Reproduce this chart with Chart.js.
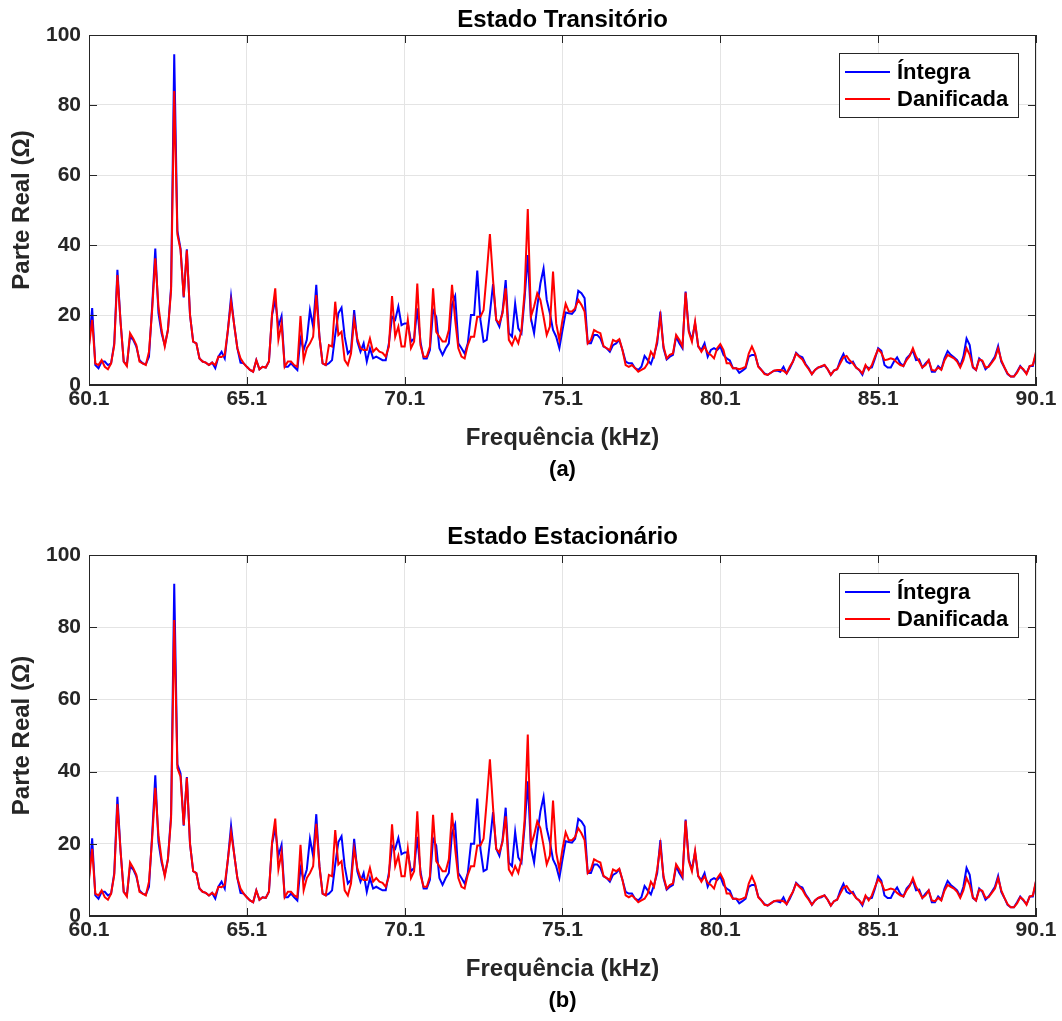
<!DOCTYPE html>
<html><head><meta charset="utf-8">
<script src="https://cdn.jsdelivr.net/npm/chart.js@4/dist/chart.umd.min.js"></script>
<style>
html,body{margin:0;padding:0;background:#fff;}
#wrap{position:relative;width:1062px;height:1021px;background:#fff;}
.box{position:absolute;left:0;width:1062px;}
</style></head><body>
<div id="wrap">
<div class="box" style="top:0;height:490px"><canvas id="c1"></canvas></div>
<div class="box" style="top:517px;height:504px"><canvas id="c2"></canvas></div>
</div>
<script>
// ---------- DATA ----------
const freqStart = 60.1, freqStep = 0.1, nPoints = 301;   // frequency grid (kHz)
const xTicks = [60.1, 65.1, 70.1, 75.1, 80.1, 85.1, 90.1];
const yTicks = [0, 20, 40, 60, 80, 100];
const seriesNames = ['Íntegra', 'Danificada'];
const titles = ['Estado Transitório', 'Estado Estacionário'];
const subLabels = ['(a)', '(b)'];
const xLabel = 'Frequência (kHz)';
const yLabel = 'Parte Real (Ω)';

const integraTrans = [
11.5,22,5.7,4.8,6.7,6.7,5.7,6.2,11.9,32.9,
18,6.7,5.7,13.8,12.9,11,7.1,6.2,5.9,8.1,
22.4,39,20.5,14.8,11.4,15.7,28,94.5,44,39,
25,38.8,20,12.4,11.9,7.6,6.7,6.4,5.7,6.4,
4.8,8.1,9.5,7.6,15.7,25.2,17.1,10.5,6.4,6.2,
5.2,4.3,3.8,7.1,4.5,5.2,5.0,6.7,20,24.3,
16.7,19.7,5.2,5.2,6.2,5.2,4.3,13.3,10,12.9,
21.4,16.7,28.6,13.8,6.2,5.7,6.2,7.1,14.3,20.5,
22.1,13.8,9,10,21.4,12.4,9.5,11.9,6.7,10.5,
7.6,8.1,7.6,7.1,7.1,11.9,19.5,18.6,22.4,17.1,
17.6,17.6,12.4,13.3,21.9,12.4,7.6,7.6,10,21.4,
19.5,10.5,8.6,10.5,11.9,23,25.4,11.9,10.5,9,
11.9,20,20,32.7,18.6,12.4,12.9,20.5,28.8,18.6,
16.7,21,30,14.8,13.8,23.3,16.2,14.8,24.8,37.1,
19,14.8,22.4,29,33.3,24.3,20.5,15.7,13.8,10.5,
15.7,20.7,20.5,20.3,21.4,26.9,26.2,24.8,11.9,11.9,
14.3,14.3,13.3,11,10.5,9.5,11.4,11.9,12.9,10,
6.7,6.2,6.2,4.8,4.3,5.2,8.3,7.1,6,8.6,
11.9,21,10.5,7.3,8.1,8.6,13.8,11.9,10.5,26.7,
15.7,12.9,17.6,11,10,11.9,8.1,10,10.5,10,
11,8.6,7.6,7,4.8,4.8,3.5,4.1,4.8,8.1,
8.6,8.6,5.4,4.3,3.3,2.9,3.5,4.1,4.1,3.8,
5.2,3.3,4.8,6.7,9.2,8.3,7.9,6,4.8,3.1,
4.3,5,5.2,5.7,4.5,2.9,4.1,4.5,7,8.9,
6.7,6.2,6.7,5,4.3,2.9,5.4,4.8,5,7.6,
10.5,9.8,5.7,5,5,6.7,7.9,6.2,5.4,7.6,
8.6,9.8,7.1,7.3,5,6.2,7.1,3.8,3.8,5.4,
4.5,7.6,9.7,8.6,7.9,7.1,5.4,8.1,13.3,11.4,
5,4.3,7.6,6.7,4.5,5.4,6.7,8.1,11.1,6.7,
5,3.1,2.4,2.4,3.8,5.4,4.3,3.3,5.4,5.4,9
];
const danificadaTrans = [
11,18.6,6.2,5.7,7.1,5.2,4.5,6.2,11.4,31.4,
18,6.7,5.4,14.8,13.3,11.4,6.7,6.2,5.7,9.5,
21.4,36.2,22.4,15.7,11,15.7,27,84,43,38.6,
25.2,38.5,20,12.4,11.9,7.6,6.7,6.4,5.7,6.4,
5.7,8.1,8,8.6,15.7,23.8,17.1,10.5,7.6,6.2,
5.2,4.3,3.8,7.1,4.5,5.2,5.0,6.7,20.5,27.6,
12.9,17.6,5.2,6.7,6.7,5.7,5.2,19.7,7.1,10.5,
11.9,13.8,25.7,13.8,6.2,5.7,11.4,11,23.8,14.3,
15.2,7.1,5.7,9,18.6,13.3,10.5,10,10,13.3,
9.5,10.5,9.5,9.2,8.1,11,25.4,13.8,16.7,11,
11,18.6,10.5,12.4,29,11.4,8.1,8.1,11,27.6,
15.2,13.8,12.4,12.4,15.7,28.6,18.6,10.5,8.1,7.6,
11.4,13.8,13.8,19.5,19.5,21.4,31.9,43.1,30,18.6,
17.6,20.5,27.6,12.9,11.4,13.8,11.9,15.7,26.7,50.3,
19.5,22.4,26.2,24.3,19.5,14.3,16.7,32.4,17.6,12.9,
18.6,23.2,21,21,21.9,24.3,22.9,21,11.9,12.9,
15.7,15.2,14.8,11.1,10.5,10,12.9,12.4,13.1,10,
5.7,5.2,5.7,4.8,3.8,4.3,4.8,6.2,9.5,8.1,
12.9,19.5,11,7.6,8.6,9,14.3,12.9,11,26.4,
15.2,12.4,18.1,11.1,9.5,11,9.2,8.6,7.6,10.5,
11.7,10,6.2,6.2,4.8,4.8,4.5,4.8,5.2,9,
11,9,5.2,4.3,3.1,2.9,3.5,4.1,4.3,4.3,
4.1,3.3,5.2,6.7,9,8.1,7.3,5.7,4.5,3.1,
4.3,5,5.4,5.7,4.5,2.9,4.1,4.5,6.2,7.9,
8.3,7,6.2,5,4.3,3.3,5.7,4.3,5.7,8.1,
10.2,9.2,7.1,7.3,7.6,7.3,6.4,5.7,5.4,7.1,
8.3,10.5,8.1,6.7,5,5.7,7.1,4.3,4.1,5,
4.3,7,8.6,8.1,7.6,6.7,5,7.1,10.5,8.6,
5.2,4.3,7.3,7,5,5.2,6.4,7.6,10.5,7.1,
5,3.3,2.4,2.4,3.5,5.2,4.5,3.1,5.4,5.7,9.5
];
const integraEst = [
10.8,21.5,5.7,4.8,6.7,6.7,5.7,6.2,11.9,33,
18,6.7,5.7,13.8,12.9,11,7.1,6.2,5.9,8.1,
22.4,39,20.5,14.8,11.4,15.7,28,92,42,39.5,
25,38.5,20,12.4,11.9,7.6,6.7,6.4,5.7,6.4,
4.8,8.1,9.5,7.6,15.7,25,17.1,10.5,6.4,6.2,
5.2,4.3,3.8,7.1,4.5,5.2,5.0,6.7,20,24.3,
16.7,19.7,5.2,5.2,6.2,5.2,4.3,13.3,10,12.9,
21.4,16.7,28.2,13.8,6.2,5.7,6.2,7.1,14.3,20.5,
22.1,13.8,9,10,21.4,12.4,9.5,11.9,6.7,10.5,
7.6,8.1,7.6,7.1,7.1,11.9,19.5,18.6,21.6,17.1,
17.6,17.6,12.4,13.3,21.9,12.4,7.6,7.6,10,21.4,
19.5,10.5,8.6,10.5,11.9,23,25.4,11.9,10.5,9,
11.9,20,20,32.5,18.6,12.4,12.9,20.5,28.8,18.6,
16.7,21,30,14.8,13.8,23.3,16.2,14.8,24.8,37.3,
19,14.8,22.4,29,33,24.3,20.5,15.7,13.8,10.5,
15.7,20.7,20.5,20.3,21.4,26.9,26.2,24.8,11.9,11.9,
14.3,14.3,13.3,11,10.5,9.5,11.4,11.9,12.9,10,
6.7,6.2,6.2,4.8,4.3,5.2,8.3,7.1,6,8.6,
11.9,21,10.5,7.3,8.1,8.6,13.8,11.9,10.5,26.7,
15.7,12.9,17.6,11,10,11.9,8.1,10,10.5,10,
11,8.6,7.6,7,4.8,4.8,3.5,4.1,4.8,8.1,
8.6,8.6,5.4,4.3,3.3,2.9,3.5,4.1,4.1,3.8,
5.2,3.3,4.8,6.7,9.2,8.3,7.9,6,4.8,3.1,
4.3,5,5.2,5.7,4.5,2.9,4.1,4.5,7,8.9,
6.7,6.2,6.7,5,4.3,2.9,5.4,4.8,5,7.6,
11,9.8,5.7,5,5,6.7,7.9,6.2,5.4,7.6,
8.6,9.8,7.1,7.3,5,6.2,7.1,3.8,3.8,5.4,
4.5,7.6,9.7,8.6,7.9,7.1,5.4,8.1,13.3,11.4,
5,4.3,7.6,6.7,4.5,5.4,6.7,8.1,11.1,6.7,
5,3.1,2.4,2.4,3.8,5.4,4.3,3.3,5.4,5.4,9.5
];
const danificadaEst = [
10,18.6,6.2,5.7,7.1,5.2,4.5,6.2,11.4,31,
18,6.7,5.4,14.8,13.3,11.4,6.7,6.2,5.7,9.5,
21.4,35.5,22.4,15.7,11,15.7,27,82,41,38.6,
25.2,38.3,20,12.4,11.9,7.6,6.7,6.4,5.7,6.4,
5.7,8.1,8,8.6,15.7,23.2,17.1,10.5,7.6,6.2,
5.2,4.3,3.8,7.1,4.5,5.2,5.0,6.7,20.5,27,
12.9,17.6,5.2,6.7,6.7,5.7,5.2,19.7,7.1,10.5,
11.9,13.8,25.5,13.8,6.2,5.7,11.4,11,23.8,14.3,
15.2,7.1,5.7,9,18.6,13.3,10.5,10,10,13.3,
9.5,10.5,9.5,9.2,8.1,11,25.4,13.8,16.7,11,
11,18.6,10.5,12.4,29,11.4,8.1,8.1,11,28,
15.2,13.8,12.4,12.4,15.7,28.6,18.6,10.5,8.1,7.6,
11.4,13.8,13.8,19.5,19.5,21.4,31.9,43.4,30,18.6,
17.6,20.5,27.6,12.9,11.4,13.8,11.9,15.7,26.7,50.3,
19.5,22.4,26.2,24.3,19.5,14.3,16.7,32,17.6,12.9,
18.6,23.2,21,21,21.9,24.3,22.9,21,11.9,12.9,
15.7,15.2,14.8,11.1,10.5,10,12.9,12.4,13.1,10,
5.7,5.2,5.7,4.8,3.8,4.3,4.8,6.2,9.5,8.1,
12.9,19.5,11,7.6,8.6,9,14.3,12.9,11,26.4,
15.2,12.4,18.1,11.1,9.5,11,9.2,8.6,7.6,10.5,
11.7,10,6.2,6.2,4.8,4.8,4.5,4.8,5.2,9,
11,9,5.2,4.3,3.1,2.9,3.5,4.1,4.3,4.3,
4.1,3.3,5.2,6.7,9,8.1,7.3,5.7,4.5,3.1,
4.3,5,5.4,5.7,4.5,2.9,4.1,4.5,6.2,7.9,
8.3,7,6.2,5,4.3,3.3,5.7,4.3,5.7,8.1,
10.2,9.2,7.1,7.3,7.6,7.3,6.4,5.7,5.4,7.1,
8.3,10.5,8.1,6.7,5,5.7,7.1,4.3,4.1,5,
4.3,7,8.6,8.1,7.6,6.7,5,7.1,10.5,8.6,
5.2,4.3,7.3,7,5,5.2,6.4,7.6,10.5,7.1,
5,3.3,2.4,2.4,3.5,5.2,4.5,3.1,5.4,5.7,9.8
];

// frequency axis (sampling grid)
const freqs = [];
for (let i = 0; i < nPoints; i++) freqs.push(+(freqStart + freqStep * i).toFixed(1));

// ---------- STYLE ----------
const FONT = "'Liberation Sans', Arial, Helvetica, sans-serif";
const AX = '#262626';
const GRID = '#e4e4e4';
const BLUE = '#0000ff';
const RED = '#ff0000';

const matlabFrame = {
  id: 'matlabFrame',
  afterDraw(chart, args, opts) {
    const {ctx, chartArea: a, scales: {x, y}} = chart;
    const cx = (a.left + a.right) / 2;
    ctx.save();
    // axes box
    ctx.strokeStyle = AX; ctx.lineWidth = 1;
    ctx.strokeRect(Math.round(a.left) + 0.5, Math.round(a.top) + 0.5,
                   Math.round(a.right - a.left) - 1, Math.round(a.bottom - a.top) - 1);
    // inward tick marks on all four sides
    const L = 8;
    ctx.beginPath();
    x.ticks.forEach(t => {
      const px = Math.round(x.getPixelForValue(t.value)) + 0.5;
      ctx.moveTo(px, a.bottom); ctx.lineTo(px, a.bottom - L);
      ctx.moveTo(px, a.top); ctx.lineTo(px, a.top + L);
    });
    y.ticks.forEach(t => {
      const py = Math.round(y.getPixelForValue(t.value)) + 0.5;
      ctx.moveTo(a.left, py); ctx.lineTo(a.left + L, py);
      ctx.moveTo(a.right, py); ctx.lineTo(a.right - L, py);
    });
    ctx.stroke();
    // title (centred over the axes) and panel label
    ctx.fillStyle = '#000'; ctx.textAlign = 'center'; ctx.textBaseline = 'middle';
    ctx.font = `bold 24px ${FONT}`;
    ctx.fillText(opts.title, cx, 20);
    ctx.font = `bold 22px ${FONT}`;
    ctx.fillText(opts.sub, cx, a.bottom + 85);
    // legend (inside, north-east)
    const ds = chart.data.datasets;
    const bw = 179, bh = 64;
    const bx = Math.round(a.right) - 18 - bw, by = Math.round(a.top) + 18;
    ctx.fillStyle = '#fff'; ctx.fillRect(bx, by, bw, bh);
    ctx.strokeStyle = AX; ctx.lineWidth = 1;
    ctx.strokeRect(bx + 0.5, by + 0.5, bw, bh);
    ctx.font = `bold 22px ${FONT}`; ctx.textBaseline = 'middle'; ctx.textAlign = 'left';
    ds.forEach((d, k) => {
      const cy = by + 19 + k * 27;
      ctx.strokeStyle = d.borderColor; ctx.lineWidth = 2;
      ctx.beginPath(); ctx.moveTo(bx + 6, cy); ctx.lineTo(bx + 51, cy); ctx.stroke();
      ctx.fillStyle = '#000';
      ctx.fillText(d.label, bx + 58, cy + 1);
    });
    ctx.restore();
  }
};

function makeChart(id, title, sub, blue, red, padTop) {
  const tickFont = {family: FONT, size: 21, weight: 'bold'};
  const labFont = {family: FONT, size: 24, weight: 'bold'};
  return new Chart(document.getElementById(id), {
    type: 'line',
    data: {
      datasets: [
        {label: seriesNames[0], data: blue.map((v, i) => ({x: freqs[i], y: v})),
         borderColor: BLUE, backgroundColor: BLUE, borderWidth: 2, pointRadius: 0, tension: 0, fill: false, order: 1},
        {label: seriesNames[1], data: red.map((v, i) => ({x: freqs[i], y: v})),
         borderColor: RED, backgroundColor: RED, borderWidth: 2, pointRadius: 0, tension: 0, fill: false, order: 0}
      ]
    },
    options: {
      responsive: true, maintainAspectRatio: false, animation: false,
      devicePixelRatio: 1,
      layout: {padding: {left: 0, right: 26, top: padTop, bottom: 36}},
      plugins: {
        legend: {display: false},
        tooltip: {enabled: false},
        matlabFrame: {title: title, sub: sub}
      },
      scales: {
        x: {
          type: 'linear', min: 60.1, max: 90.1,
          afterBuildTicks: s => { s.ticks = xTicks.map(v => ({value: v})); },
          afterFit: s => { s.height = 69; },
          ticks: {font: tickFont, color: AX, padding: 2, maxRotation: 0, autoSkip: false,
                  callback: v => Number(v).toFixed(1)},
          grid: {color: GRID, drawTicks: false},
          border: {color: AX},
          title: {display: true, text: xLabel, color: AX, font: labFont, padding: {top: 0, bottom: 1.6}}
        },
        y: {
          min: 0, max: 100,
          afterBuildTicks: s => { s.ticks = yTicks.map(v => ({value: v})); },
          afterFit: s => { s.width = 89; },
          ticks: {font: tickFont, color: AX, padding: 8, callback: v => String(v)},
          grid: {color: GRID, drawTicks: false},
          border: {color: AX},
          title: {display: true, text: yLabel, color: AX, font: labFont, padding: {top: 7.6, bottom: 0}}
        }
      }
    },
    plugins: [matlabFrame]
  });
}

makeChart('c1', titles[0], subLabels[0], integraTrans, danificadaTrans, 35);
makeChart('c2', titles[1], subLabels[1], integraEst, danificadaEst, 38);
</script>
</body></html>
